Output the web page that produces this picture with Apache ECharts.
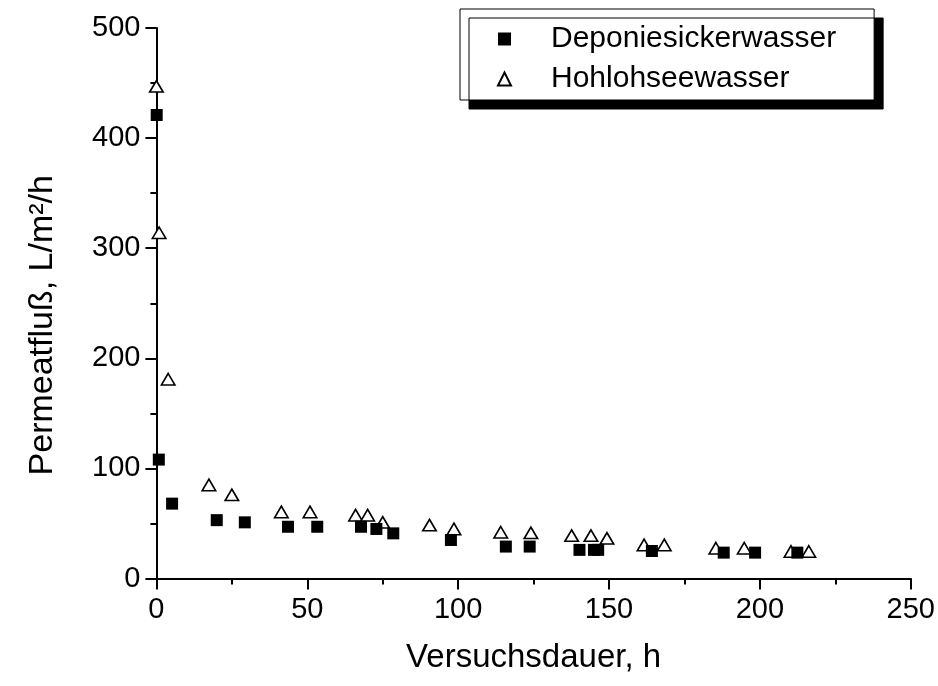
<!DOCTYPE html>
<html>
<head>
<meta charset="utf-8">
<script src="https://cdn.jsdelivr.net/npm/echarts@6/dist/echarts.min.js"></script>
<style>
  html, body { margin: 0; padding: 0; background: #fff; }
  #chart { width: 938px; height: 686px; }
</style>
</head>
<body>
<div id="chart"></div>
<script>
// Permeate flux over test duration for two feed waters
const seriesNames = ['Deponiesickerwasser', 'Hohlohseewasser'];

// Deponiesickerwasser: [Versuchsdauer h, Permeatfluß L/m²/h]
const deponieHours = [0.1, 0.8, 5.2, 20, 29.3, 43.6, 53.3, 67.8, 72.9, 78.5, 97.6, 115.8, 123.7, 140.2, 145, 146.4, 164.2, 188, 198.4, 212.4];
const deponieFlux  = [421, 108, 68, 53, 51, 47, 47, 47, 45, 41, 35, 29, 29, 26, 26, 26, 25, 23.5, 23.5, 23.5];

// Hohlohseewasser
const hohlohHours = [0, 0.9, 3.9, 17.4, 25, 41.4, 50.9, 66, 70, 75, 90.5, 98.6, 114.1, 124.1, 137.6, 144, 149.3, 161.6, 168.3, 185.4, 194.8, 210.3, 216.2];
const hohlohFlux  = [447, 314, 181, 85, 76, 60.5, 60.5, 57.5, 57.5, 51, 48.5, 45, 42, 41.5, 39, 39, 36.5, 30.5, 30.5, 27.5, 27.5, 24.5, 24.5];

// Axis ranges and ticks
const xMin = 0, xMax = 250, xStep = 50;
const yMin = 0, yMax = 500, yStep = 100;

const pairs = (xs, ys) => xs.map((x, i) => [x, ys[i]]);

const FONT = 'Liberation Sans, Arial, sans-serif';

const axisCommon = {
  axisLine: { show: true, onZero: false, lineStyle: { color: '#000', width: 2 } },
  axisTick: { show: true, inside: false, length: 11, lineStyle: { color: '#000', width: 2 } },
  minorTick: { show: true, splitNumber: 2, length: 6, lineStyle: { color: '#000', width: 2 } },
  splitLine: { show: false },
  minorSplitLine: { show: false }
};

const chart = echarts.init(document.getElementById('chart'), null, { renderer: 'canvas' });

chart.setOption({
  backgroundColor: '#fff',
  animation: false,
  grid: { left: 156.4, right: 25, top: 28, bottom: 107.5, containLabel: false },
  xAxis: Object.assign({}, axisCommon, {
    type: 'value',
    min: xMin, max: xMax, interval: xStep,
    name: 'Versuchsdauer, h',
    nameLocation: 'middle',
    nameGap: 63,
    nameTextStyle: { fontFamily: FONT, fontSize: 33, color: '#000' },
    axisLabel: { margin: 17, fontFamily: FONT, fontSize: 29, color: '#000' }
  }),
  yAxis: Object.assign({}, axisCommon, {
    type: 'value',
    min: yMin, max: yMax, interval: yStep,
    name: 'Permeatfluß, L/m²/h',
    nameLocation: 'middle',
    nameRotate: 90,
    nameGap: 97,
    nameTextStyle: { fontFamily: FONT, fontSize: 34, color: '#000', padding: [0, 44, 0, 0] },
    axisLabel: { margin: 16, fontFamily: FONT, fontSize: 29, color: '#000' }
  }),
  legend: {
    orient: 'vertical',
    left: 460,
    top: 9,
    data: seriesNames,
    itemWidth: 13,
    itemHeight: 13,
    itemGap: 10,
    padding: [15, 38, 6, 37],
    backgroundColor: '#fff',
    borderColor: '#000',
    borderWidth: 1,
    shadowColor: '#000',
    shadowBlur: 0,
    shadowOffsetX: 9,
    shadowOffsetY: 9,
    textStyle: { fontFamily: FONT, fontSize: 30, color: '#000', lineHeight: 30, padding: [0, 0, 0, 35] }
  },
  series: [
    {
      name: 'Hohlohseewasser',
      type: 'scatter',
      symbol: 'triangle',
      symbolSize: [13.5, 11.5],
      symbolKeepAspect: true,
      itemStyle: { color: '#fff', borderColor: '#000', borderWidth: 1.6, opacity: 1 },
      data: pairs(hohlohHours, hohlohFlux),
      z: 2
    },
    {
      name: 'Deponiesickerwasser',
      type: 'scatter',
      symbol: 'rect',
      symbolSize: 12,
      symbolKeepAspect: true,
      itemStyle: { color: '#000', opacity: 1 },
      data: pairs(deponieHours, deponieFlux),
      z: 3
    }
  ]
});
</script>
</body>
</html>
